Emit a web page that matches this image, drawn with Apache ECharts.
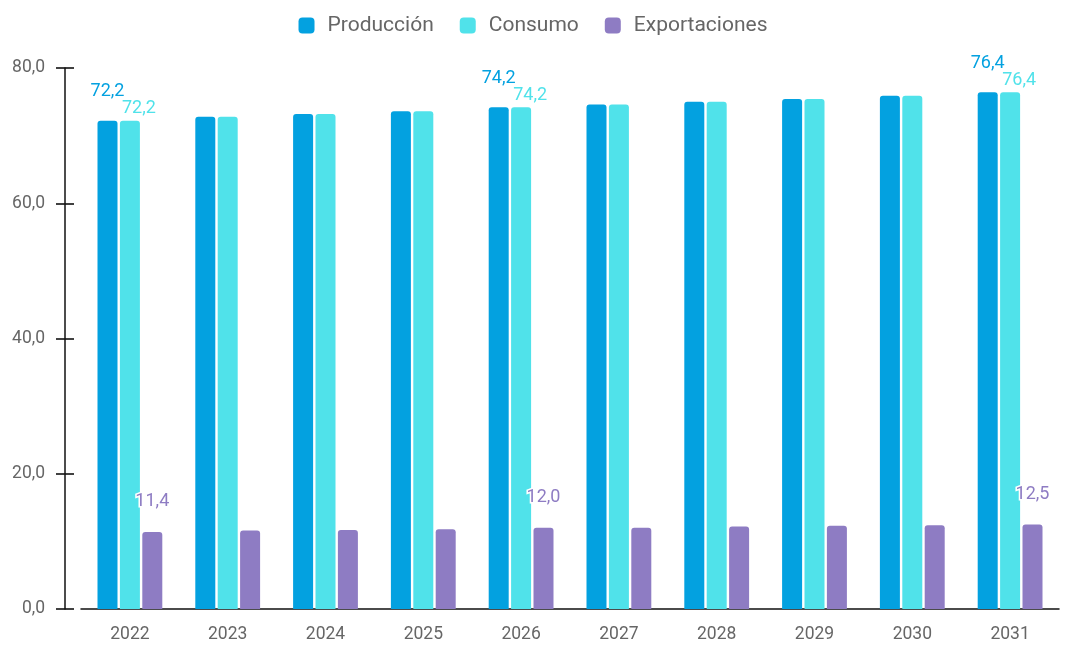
<!DOCTYPE html>
<html>
<head>
<meta charset="utf-8">
<script src="https://cdn.jsdelivr.net/npm/echarts@6/dist/echarts.min.js"></script>
<style>
  html, body { margin: 0; padding: 0; background: #fff; }
  #chart { width: 1066px; height: 645px; }
</style>
</head>
<body>
<div id="chart"></div>
<script>
var years = ['2022', '2023', '2024', '2025', '2026', '2027', '2028', '2029', '2030', '2031'];
var produccion = [72.2, 72.8, 73.2, 73.6, 74.2, 74.6, 75.0, 75.4, 75.9, 76.4];
var consumo = [72.2, 72.8, 73.2, 73.6, 74.2, 74.6, 75.0, 75.4, 75.9, 76.4];
var exportaciones = [11.4, 11.6, 11.7, 11.8, 12.0, 12.0, 12.2, 12.3, 12.4, 12.5];
// solo se etiquetan algunos años
var labeled = [0, 4, 9];

var colors = ['#03a1e0', '#50e2ea', '#8e7cc3'];

function fmt(v) {
  return v.toFixed(1).replace('.', ',');
}

function labelFor(color, offset, distance) {
  return {
    show: true,
    position: 'top',
    distance: distance,
    offset: offset,
    color: color,
    fontSize: 18,
    fontFamily: 'Roboto',
    textBorderColor: '#fff',
    textBorderWidth: 3,
    formatter: function (p) {
      return labeled.indexOf(p.dataIndex) > -1 ? fmt(p.value) : '';
    }
  };
}

function makeSeries(name, data, color, offset, distance, yIdx) {
  return {
    name: name,
    type: 'bar',
    data: data,
    yAxisIndex: yIdx,
    barWidth: 20,
    barGap: '12%',
    itemStyle: { color: color, borderRadius: [3, 3, 0, 0] },
    label: labelFor(color, offset, distance)
  };
}

var axisText = { color: '#666', fontSize: 17.5, fontFamily: 'Roboto' };
var axisColor = '#111';
var tickStyle = { color: axisColor, width: 1.6 };

var option = {
  animation: false,
  textStyle: { fontFamily: 'Roboto' },
  legend: {
    top: 10,
    left: 'center',
    itemWidth: 16,
    itemHeight: 16,
    itemGap: 26,
    icon: 'roundRect',
    textStyle: { color: '#666', fontSize: 21, fontFamily: 'Roboto', padding: [0, 0, 0, 8] },
    data: ['Producción', 'Consumo', 'Exportaciones']
  },
  grid: { left: 81, right: 7, top: 68, bottom: 36 },
  xAxis: [
    {
      type: 'category',
      data: years,
      axisLine: { lineStyle: { color: axisColor, width: 1.5 } },
      axisTick: { alignWithLabel: true, length: 8, lineStyle: tickStyle },
      axisLabel: Object.assign({ margin: 17 }, axisText)
    },
    {
      // segundo eje desplazado hacia arriba: marcas que cruzan la línea
      type: 'category',
      data: years,
      position: 'bottom',
      offset: -10,
      axisLine: { show: true, onZero: false, lineStyle: { opacity: 0 } },
      axisTick: { show: true, alignWithLabel: true, length: 10, lineStyle: tickStyle },
      axisLabel: { show: false }
    }
  ],
  yAxis: [
    {
      type: 'value',
      min: 0,
      max: 80,
      interval: 20,
      offset: 16,
      splitLine: { show: false },
      axisLine: { show: true, lineStyle: { color: axisColor, width: 1.5 } },
      axisTick: { show: true, length: 9, lineStyle: tickStyle },
      axisLabel: Object.assign({ margin: 20, formatter: fmt }, axisText)
    },
    {
      type: 'value',
      min: 0,
      max: 80,
      interval: 20,
      offset: 7,
      position: 'left',
      splitLine: { show: false },
      axisLine: { show: true, onZero: false, lineStyle: { opacity: 0 } },
      axisTick: { show: true, length: 9, lineStyle: tickStyle },
      axisLabel: { show: false }
    }
  ],
  series: [
    makeSeries('Producción', produccion, colors[0], [0, -15], 5, 0),
    makeSeries('Consumo', consumo, colors[1], [9, 0], 3, 0),
    makeSeries('Exportaciones', exportaciones, colors[2], [0, -16], 5, 1),
    // serie vacía: solo activa el segundo eje x
    { type: 'line', xAxisIndex: 1, data: [], silent: true }
  ]
};

var myChart = echarts.init(document.getElementById('chart'));
myChart.setOption(option);
</script>
</body>
</html>
